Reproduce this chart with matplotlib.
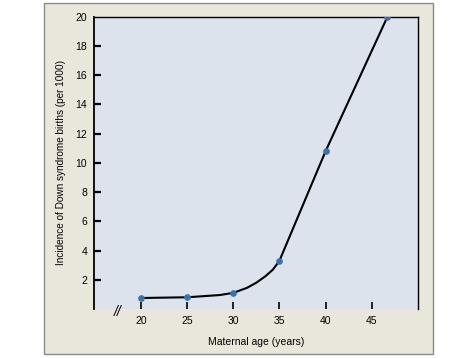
import matplotlib
matplotlib.use("Agg")
import matplotlib.pyplot as plt
from matplotlib.patches import Rectangle

# ── Data ────────────────────────────────────────────────────
ages = [20, 25, 30, 35, 40, 46.7]
incidence = [0.75, 0.8, 1.1, 3.3, 10.8, 20.0]

# traced curve through the points (knee between 28 and 35)
curve_x = [20, 25, 28.5, 30, 31.5, 32.5, 33.5, 34.3, 35, 40, 46.7]
curve_y = [0.75, 0.8, 0.95, 1.1, 1.45, 1.8, 2.25, 2.7, 3.3, 10.8, 20.0]

x_ticks = [20, 25, 30, 35, 40, 45]
y_ticks = [2, 4, 6, 8, 10, 12, 14, 16, 18, 20]

plt.rcParams['font.family'] = ['Liberation Sans', 'DejaVu Sans']

fig = plt.figure(figsize=(4.77, 3.58), dpi=100)
fig.patch.set_facecolor('white')

# beige panel behind the plot
fig.patches.append(Rectangle((0.092, 0.011), 0.816, 0.981, transform=fig.transFigure,
                             facecolor='#e9e6dc', edgecolor='#8a8a86', lw=1.0, zorder=-1))

ax = fig.add_axes([0.197, 0.137, 0.679, 0.816])
ax.set_facecolor('#dce3ec')
ax.plot(curve_x, curve_y, color='black', lw=1.5, zorder=2)
ax.plot(ages, incidence, 'o', color='#3d72a8', ms=3.8, zorder=3)

ax.set_xlim(14.9, 50)
ax.set_ylim(0, 20)
ax.set_xticks(x_ticks)
ax.set_yticks(y_ticks)
ax.set_yticklabels([str(v) for v in y_ticks])
# top label has no tick mark
ax.yaxis.get_major_ticks()[-1].tick1line.set_visible(False)

ax.spines['bottom'].set_visible(False)
ax.spines['left'].set_linewidth(1.3)
ax.spines['top'].set_linewidth(1.0)
ax.spines['right'].set_linewidth(1.0)

ax.tick_params(axis='y', direction='in', length=5, width=1.6, labelsize=7.5, pad=5)
ax.tick_params(axis='x', direction='in', length=5, width=1.2, labelsize=7.5, pad=5)

ax.set_xlabel('Maternal age (years)', fontsize=7.5, labelpad=8)
ax.set_ylabel('Incidence of Down syndrome births (per 1000)', fontsize=7.2, labelpad=7)

# axis break mark
ax.text(17.5, -0.2, '//', fontsize=10, ha='center', va='center', clip_on=False,
        style='italic')

fig.savefig('out.png', dpi=100)
